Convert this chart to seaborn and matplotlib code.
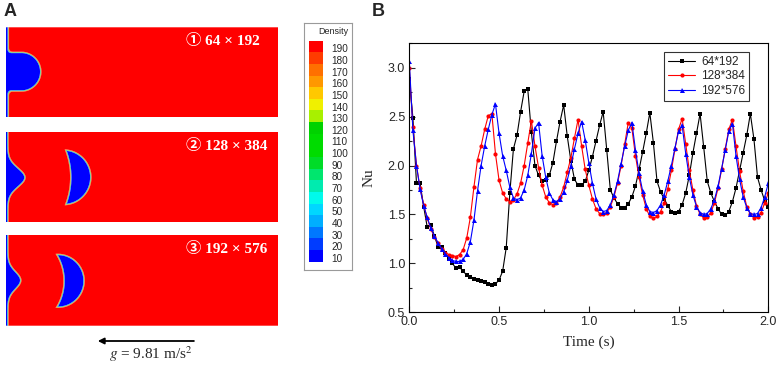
import numpy as np
import pandas as pd
import matplotlib
matplotlib.use("Agg")
import matplotlib.pyplot as plt
import seaborn as sns
from matplotlib.ticker import MultipleLocator

# ==============================================================================
# DATA
# ==============================================================================
# Panel B: Nusselt number, one marker every 0.02 s
time_s = np.round(np.arange(101) * 0.02, 2)

nu_64x192 = [
    2.88, 2.49, 1.82, 1.82, 1.58, 1.37, 1.39, 1.28, 1.17, 1.17,
    1.11, 1.05, 1.00, 0.95, 0.96, 0.92, 0.88, 0.86, 0.84, 0.83,
    0.82, 0.81, 0.79, 0.78, 0.79, 0.83, 0.92, 1.16, 1.72, 2.17,
    2.31, 2.55, 2.76, 2.78, 2.34, 2.00, 1.90, 1.84, 1.85, 1.90,
    2.03, 2.25, 2.45, 2.62, 2.30, 2.05, 1.86, 1.80, 1.80, 1.84,
    1.95, 2.09, 2.25, 2.41, 2.55, 2.16, 1.75, 1.67, 1.61, 1.57,
    1.57, 1.61, 1.68, 1.79, 1.96, 2.14, 2.33, 2.54, 2.23, 1.84,
    1.73, 1.66, 1.59, 1.53, 1.52, 1.53, 1.60, 1.72, 1.90, 2.13,
    2.33, 2.53, 2.19, 1.84, 1.72, 1.63, 1.56, 1.50, 1.49, 1.53,
    1.63, 1.77, 1.95, 2.13, 2.31, 2.53, 2.27, 1.88, 1.75, 1.64,
    1.58,
]
nu_128x384 = [
    3.00, 2.39, 2.00, 1.77, 1.60, 1.46, 1.35, 1.27, 1.21, 1.15,
    1.11, 1.09, 1.08, 1.07, 1.09, 1.14, 1.26, 1.47, 1.78, 2.06,
    2.20, 2.37, 2.51, 2.53, 2.12, 1.85, 1.72, 1.66, 1.63, 1.65,
    1.71, 1.82, 2.00, 2.23, 2.46, 2.20, 1.98, 1.80, 1.68, 1.62,
    1.60, 1.62, 1.68, 1.78, 1.93, 2.08, 2.28, 2.47, 2.20, 1.96,
    1.80, 1.66, 1.56, 1.51, 1.50, 1.52, 1.58, 1.68, 1.82, 2.00,
    2.22, 2.44, 2.38, 2.10, 1.88, 1.70, 1.56, 1.48, 1.46, 1.48,
    1.53, 1.62, 1.76, 1.95, 2.17, 2.37, 2.48, 2.22, 1.95, 1.75,
    1.59, 1.50, 1.465, 1.47, 1.52, 1.62, 1.77, 1.96, 2.17, 2.37,
    2.47, 2.20, 1.94, 1.74, 1.58, 1.50, 1.465, 1.47, 1.52, 1.62,
    1.72,
]
nu_192x576 = [
    3.07, 2.36, 2.00, 1.76, 1.59, 1.47, 1.36, 1.28, 1.21, 1.15,
    1.10, 1.06, 1.03, 1.02, 1.02, 1.04, 1.10, 1.22, 1.44, 1.74,
    2.00, 2.20, 2.37, 2.52, 2.63, 2.33, 2.10, 1.95, 1.78, 1.67,
    1.65, 1.67, 1.75, 1.90, 2.12, 2.38, 2.44, 2.10, 1.88, 1.72,
    1.65, 1.63, 1.66, 1.73, 1.85, 2.00, 2.17, 2.33, 2.45, 2.26,
    2.03, 1.82, 1.66, 1.57, 1.53, 1.54, 1.60, 1.70, 1.84, 2.02,
    2.20, 2.36, 2.44, 2.16, 1.92, 1.74, 1.60, 1.53, 1.52, 1.54,
    1.60, 1.70, 1.84, 2.00, 2.18, 2.35, 2.41, 2.12, 1.88, 1.70,
    1.58, 1.52, 1.50, 1.51, 1.56, 1.65, 1.79, 1.97, 2.16, 2.35,
    2.43, 2.10, 1.86, 1.68, 1.57, 1.51, 1.50, 1.51, 1.57, 1.68,
    1.82,
]
series_labels = ["64*192", "128*384", "192*576"]

# Panel A: density legend (bottom -> top)
density_levels = [10, 20, 30, 40, 50, 60, 70, 80, 90, 100,
                  110, 120, 130, 140, 150, 160, 170, 180, 190]
density_colors = ["#0000FF", "#003CFF", "#0078FF", "#00AFFF", "#00D7FF",
                  "#00FAEB", "#00EBAF", "#00E66E", "#00DC28", "#00DC00",
                  "#00DC00", "#00D200", "#A8F000", "#F0F000", "#FFC800",
                  "#FF9800", "#FF7000", "#FF3C00", "#FF0000"]

mesh_tags = ["\u2460 64 \u00d7 192", "\u2461 128 \u00d7 384", "\u2462 192 \u00d7 576"]

# snapshot geometry, in pixels of a 272 x 90 frame (wall at x = 0, y downwards)
film_thickness = [2.6, 2.2, 2.2]
film_bump = [None, (17.0, 45.5, 13.0), (12.8, 45.0, 12.0)]        # amp, y0, width
wall_dome = [(15.7, 44.4, 19.3), None, None]                       # x_end, y0, r
crescent_outer = [None, (57.9, 45.3, 27.1), (52.1, 45.5, 26.2)]    # cx, cy, r
crescent_inner = [None, (-10.4, 45.3, 75.4), (7.7, 45.5, 50.6)]    # cx, cy, r

BOX_W, BOX_H = 272.0, 90.0
FIG_W, FIG_H = 782, 366

# ==============================================================================
# STYLE
# ==============================================================================
sns.set_style("ticks")
plt.rcParams.update({
    "font.family": ["Liberation Sans", "DejaVu Sans"],
    "mathtext.fontset": "stix",
    "axes.linewidth": 0.8,
    "xtick.direction": "in",
    "ytick.direction": "in",
})
SERIF = ["Liberation Serif", "DejaVu Serif"]


def px_axes(fig, left, top, right, bottom):
    return fig.add_axes([left / FIG_W, 1 - bottom / FIG_H,
                         (right - left) / FIG_W, (bottom - top) / FIG_H])


def smin(a, b, k):
    h = np.clip(0.5 + 0.5 * (b - a) / k, 0, 1)
    return b * (1 - h) + a * h - k * h * (1 - h)


def density_field(i):
    xs = np.linspace(0, BOX_W, 1100)
    ys = np.linspace(0, BOX_H, 370)
    X, Y = np.meshgrid(xs, ys)

    t = np.full_like(ys, film_thickness[i])
    if film_bump[i] is not None:
        amp, y0, sig = film_bump[i]
        t = t + amp * np.exp(-((ys - y0) / sig) ** 2)
    dt = np.gradient(t, ys)
    d = (X - t[:, None]) / np.sqrt(1 + dt[:, None] ** 2)

    if wall_dome[i] is not None:
        xe, y0, r = wall_dome[i]
        dd = np.sqrt(np.clip(X - xe, 0, None) ** 2 + (Y - y0) ** 2) - r
        d = smin(d, dd, 4.0)

    if crescent_outer[i] is not None:
        ax_, ay_, ar = crescent_outer[i]
        bx_, by_, br = crescent_inner[i]
        dA = np.sqrt((X - ax_) ** 2 + (Y - ay_) ** 2) - ar
        dB = np.sqrt((X - bx_) ** 2 + (Y - by_) ** 2) - br
        d = np.minimum(d, np.maximum(dA, -dB))

    rho = 10 + 180 / (1 + np.exp(-d / 0.2))
    return X, Y, rho


fig = plt.figure(figsize=(FIG_W / 100, FIG_H / 100), dpi=100)

# ==============================================================================
# PANEL A: density snapshots
# ==============================================================================
edges = [0] + [lv + 5 for lv in density_levels[:-1]] + [200]
box_rows = [(27.3, 117.3), (131.7, 222.3), (235.0, 325.7)]
for i, (top, bottom) in enumerate(box_rows):
    ax = px_axes(fig, 5.7, top, 278.0, bottom)
    X, Y, rho = density_field(i)
    ax.contourf(X, Y, rho, levels=edges, colors=density_colors, antialiased=True)
    ax.set_xlim(0, BOX_W)
    ax.set_ylim(BOX_H, 0)
    ax.axis("off")
    ax.text(180.5, 13.8, mesh_tags[i], color="white", fontsize=11, fontweight="bold",
            family=["Liberation Serif", "Noto Sans CJK SC"], ha="left", va="center")

# density legend
frame = px_axes(fig, 304, 23, 352, 270)
frame.set_xticks([]); frame.set_yticks([])
for s in frame.spines.values():
    s.set_color("#9a9a9a"); s.set_linewidth(0.8)
frame.text(0.92, 0.965, "Density", transform=frame.transAxes, ha="right", va="center",
           fontsize=6.5)

sw = px_axes(fig, 309, 40.7, 323, 261.7)
sw.barh(np.arange(len(density_levels)), 1.0, height=1.0, color=density_colors, edgecolor="none")
sw.set_xlim(0, 1)
sw.set_ylim(-0.5, len(density_levels) - 0.5)
sw.axis("off")
for k, lv in enumerate(density_levels):
    sw.text(1.62, k - 0.25, str(lv), ha="left", va="center", fontsize=7.2, clip_on=False)

# gravity arrow
fig.patches.append(matplotlib.patches.FancyArrowPatch(
    (196.7 / FIG_W, 1 - 341 / FIG_H), (95 / FIG_W, 1 - 341 / FIG_H),
    transform=fig.transFigure, arrowstyle="-|>", mutation_scale=9, lw=1.3, color="black"))
fig.text(151 / FIG_W, 1 - 354 / FIG_H, r"$g$ = 9.81 m/s$^2$", ha="center", va="center",
         fontsize=11, family=SERIF)

# ==============================================================================
# PANEL B: Nu vs time
# ==============================================================================
axb = px_axes(fig, 409.3, 43.3, 768.3, 312.3)
styles = [("black", "s", 3.2), ("red", "o", 3.0), ("blue", "^", 3.6)]
for vals, lab, (col, mk, ms) in zip([nu_64x192, nu_128x384, nu_192x576], series_labels, styles):
    sns.lineplot(x=time_s, y=vals, ax=axb, color=col, marker=mk, markersize=ms,
                 markeredgewidth=0, linewidth=0.8, label=lab)

axb.set_xlim(0, 2.0)
axb.set_ylim(0.5, 3.25)
axb.xaxis.set_major_locator(MultipleLocator(0.5))
axb.xaxis.set_minor_locator(MultipleLocator(0.25))
axb.yaxis.set_major_locator(MultipleLocator(0.5))
axb.yaxis.set_minor_locator(MultipleLocator(0.25))
axb.tick_params(which="major", length=4, width=0.8, labelsize=9, pad=3)
axb.tick_params(which="minor", length=2.5, width=0.8)
for s in axb.spines.values():
    s.set_visible(True); s.set_color("black")
axb.set_xlabel("Time (s)", family=SERIF, fontsize=11)
axb.set_ylabel("Nu", family=SERIF, fontsize=11)
axb.xaxis.set_label_coords(0.5, -0.085)
axb.yaxis.set_label_coords(-0.095, 0.5)

leg = axb.legend(loc="upper right", bbox_to_anchor=(0.947, 0.969), borderaxespad=0,
                 fontsize=8.5, frameon=True, fancybox=False, edgecolor="black",
                 handlelength=2.3, labelspacing=0.22, borderpad=0.35, handletextpad=0.5)
leg.get_frame().set_linewidth(0.8)

# panel letters
fig.text(4 / FIG_W, 1 - 11 / FIG_H, "A", fontsize=13, fontweight="bold", va="center")
fig.text(372 / FIG_W, 1 - 11 / FIG_H, "B", fontsize=13, fontweight="bold", va="center")

fig.savefig("out.png", dpi=100)
